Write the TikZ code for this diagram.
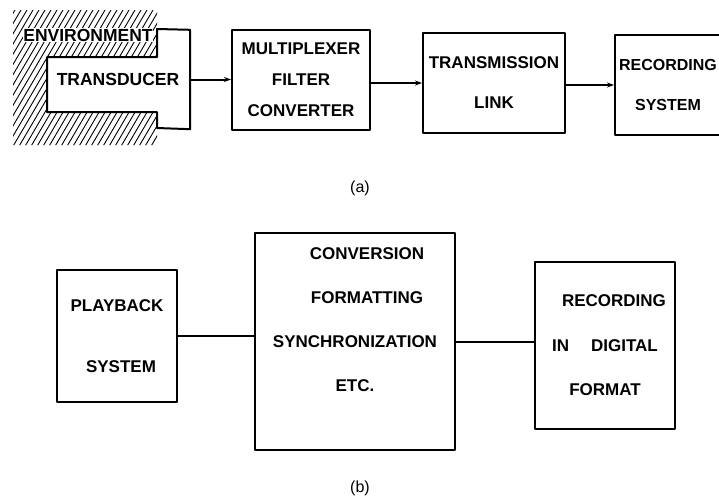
\documentclass[tikz,border=0pt]{standalone}
\usepackage{fontspec}
\setmainfont{Liberation Sans}
\usetikzlibrary{arrows.meta}
\tikzset{
    lab/.style={
        font=\fontsize{16}{19}\selectfont
    }
}

\begin{document}
\begin{tikzpicture}[x=1pt,y=-1pt, line cap=round, line join=round, >={Stealth[length=7pt,width=5pt]}]

\tikzset{
  box/.style={draw=black, line width=2pt, inner sep=0pt, align=center, font=\fontsize{17}{#1}\selectfont\bfseries},
  box/.default=40,
  word/.style={font=\fontsize{17.5}{20}\selectfont\bfseries, inner sep=0.5pt}
}

\useasboundingbox (0,0) rectangle (719,501);

\begin{scope}
  \clip (13,10) -- (157,10) -- (157,57) -- (47,57) -- (47,112) -- (157,112) -- (157,145) -- (13,145) -- cycle;
  \foreach \i in {-16,...,27}
    \draw[line width=0.9pt] (\i*6,148) -- ++(88,-150);
\end{scope}

\node[word, fill=white] (env) at (88,35) {ENVIRONMENT};
\node[word, minimum width=144pt, minimum height=99pt] (trans) at (118,79.5) {TRANSDUCER};
\draw[line width=2pt] (157,29) -- (trans.north east) -- (trans.south east) -- (157,128)
  -- (157,112) -- (47,112) -- (47,57) -- (157,57) -- cycle;

\node[box=31, minimum width=138pt, minimum height=100pt] (mux) at (301,80) {MULTIPLEXER\\FILTER\\CONVERTER};
\node[box=40, minimum width=142pt, minimum height=100pt] (link) at (494,83) {TRANSMISSION\\LINK};
\node[box=40, minimum width=106pt, minimum height=100pt, font=\fontsize{16}{40}\selectfont\bfseries] (rec) at (668,85) {RECORDING\\SYSTEM};

\draw[->, line width=2pt] (trans.east) -- (trans.east -| mux.west);
\draw[->, line width=2pt] (link.west -| mux.east) -- (link.west);
\draw[->, line width=2pt] (rec.west -| link.east) -- (rec.west);

\node[lab] (capa) at (360,188) {(a)};

\node[box=61, minimum width=120pt, minimum height=132pt] (play) at (117,336) {PLAYBACK\\\hspace*{8pt}SYSTEM};
\node[box=44, minimum width=200pt, minimum height=217pt] (conv) at (355,341.5)
  {\hspace*{24pt}CONVERSION\\\hspace*{24pt}FORMATTING\\SYNCHRONIZATION\\ETC.\\\mbox{}};
\node[box=44.5, minimum width=140pt, minimum height=167pt] (digit) at (605,345.5)
  {\hspace*{18pt}RECORDING\\IN\hspace{22pt}DIGITAL\\FORMAT};

\draw[line width=2pt] (play.east) -- (play.east -| conv.west);
\draw[line width=2pt] (conv.east) -- (conv.east -| digit.west);

\node[lab] (capb) at (360,488) {(b)};

\end{tikzpicture}
\end{document}
